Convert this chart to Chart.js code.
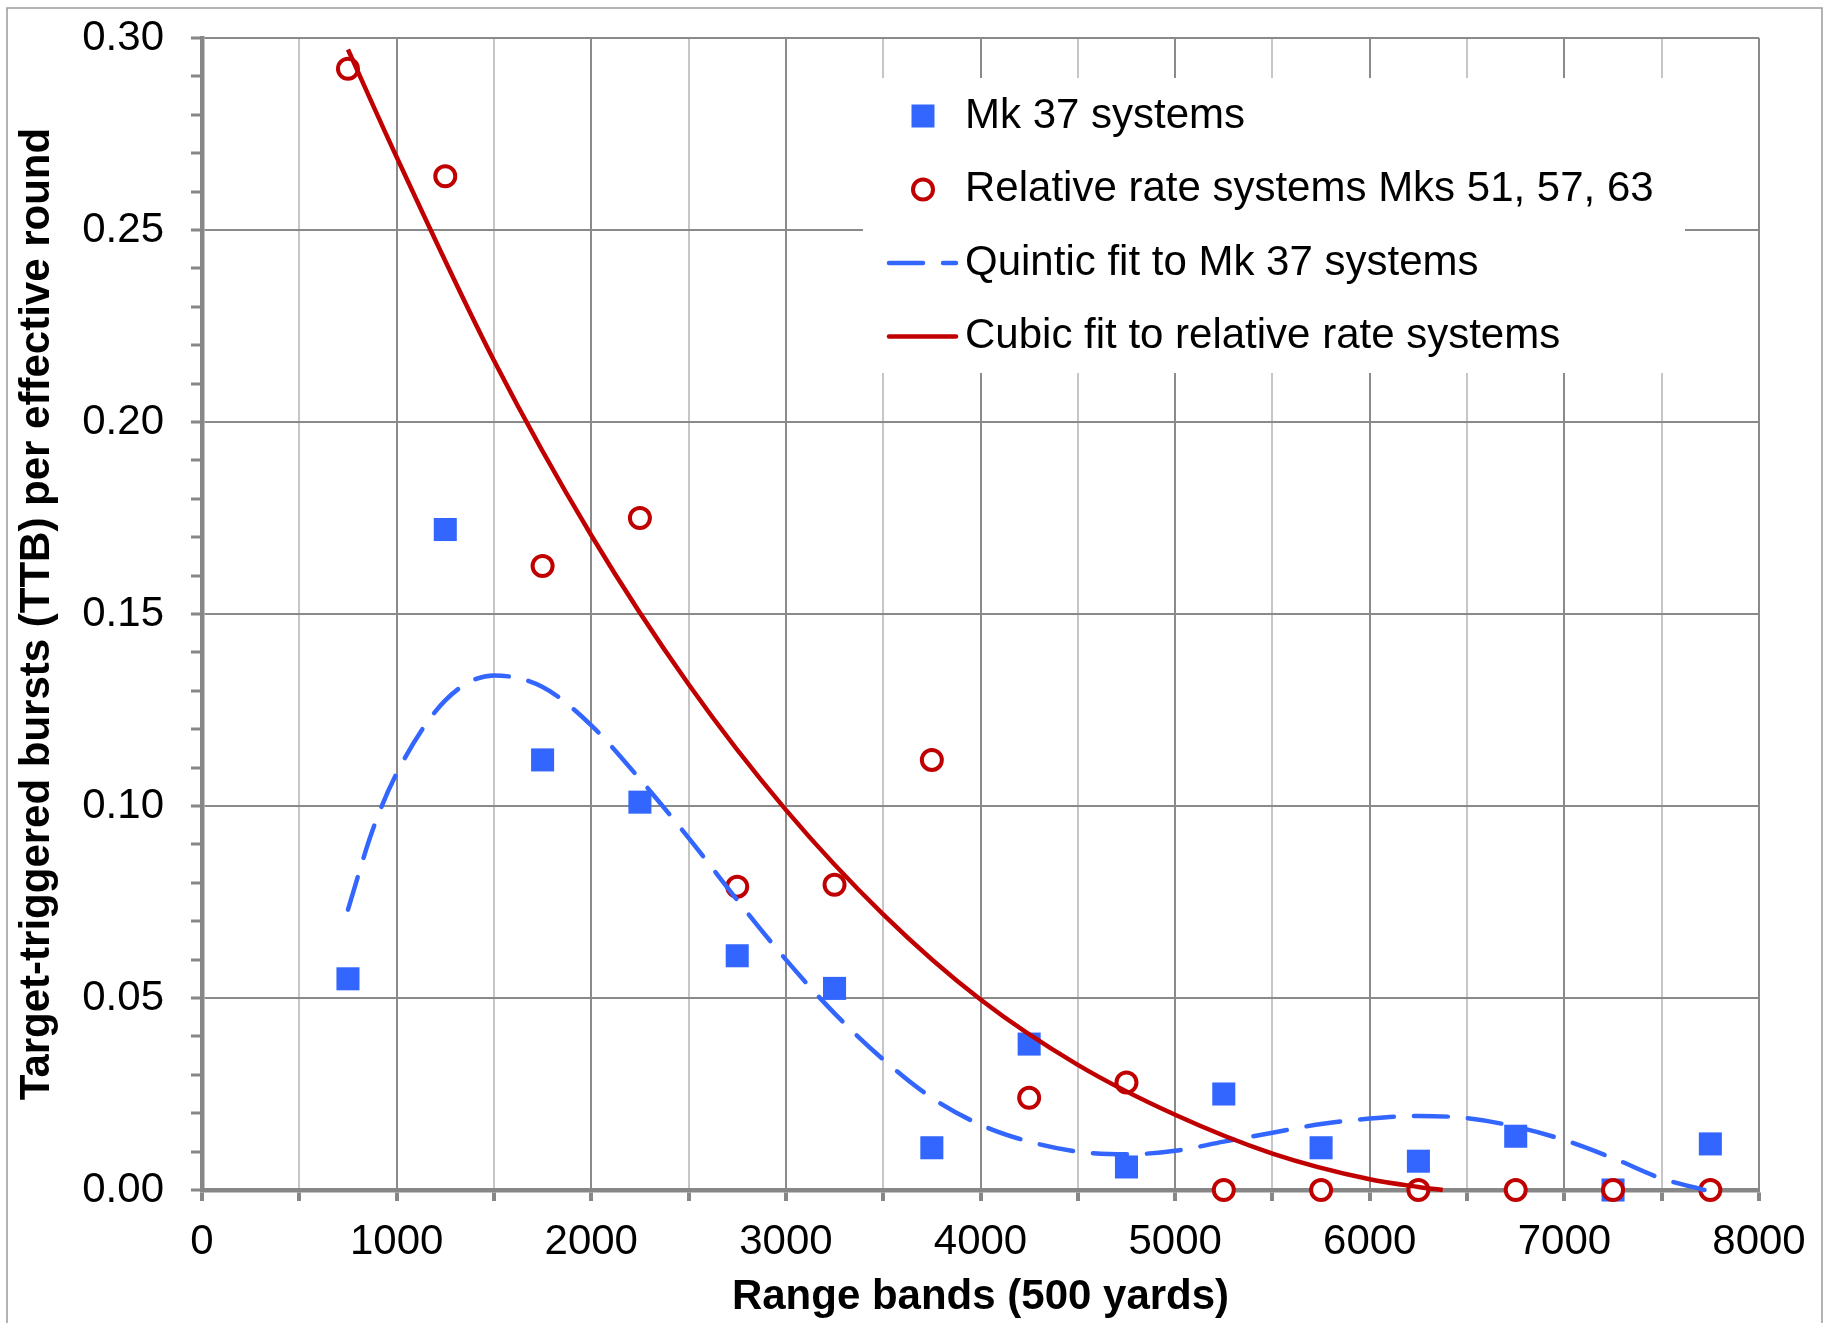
<!DOCTYPE html>
<html>
<head>
<meta charset="utf-8">
<style>
  body { margin: 0; background: #fff; }
  canvas { display: block; }
</style>
<script src="https://cdn.jsdelivr.net/npm/chart.js@4.4.1/dist/chart.umd.min.js"></script>
</head>
<body>
<canvas id="myChart" width="1834" height="1323"></canvas>
<script>
// range bands (centre of each 500 yd band)
const rangeBands = [750, 1250, 1750, 2250, 2750, 3250, 3750, 4250, 4750, 5250, 5750, 6250, 6750, 7250, 7750];
const mk37 = [0.055, 0.172, 0.112, 0.101, 0.061, 0.0525, 0.011, 0.038, 0.006, 0.025, 0.011, 0.0075, 0.014, 0, 0.012];
const relRate = [0.292, 0.264, 0.1625, 0.175, 0.079, 0.0795, 0.112, 0.024, 0.028, 0, 0, 0, 0, 0, 0];

// trend lines
const quinticX = [750, 875, 1000, 1250, 1500, 1750, 2000, 2250, 2500, 2750, 3000, 3250, 3500, 3750, 4000, 4250, 4500, 4750, 5000, 5250, 5500, 5750, 6000, 6250, 6500, 6750, 7000, 7250, 7500, 7720];
const quinticY = [0.073, 0.0935, 0.1085, 0.1275, 0.134, 0.131, 0.121, 0.107, 0.0917, 0.0755, 0.060, 0.046, 0.034, 0.024, 0.017, 0.0126, 0.010, 0.0093, 0.0102, 0.0126, 0.0149, 0.0172, 0.0186, 0.0193, 0.0187, 0.0165, 0.013, 0.0083, 0.003, 0];
const cubicX = [750, 1000, 1500, 2000, 2500, 3000, 3500, 4000, 4500, 5000, 5500, 6000, 6250, 6375];
const cubicY = [0.297, 0.269, 0.216, 0.1705, 0.1317, 0.099, 0.0718, 0.0496, 0.0326, 0.0196, 0.0095, 0.0028, 0.0008, 0];

const xTicks = [0, 1000, 2000, 3000, 4000, 5000, 6000, 7000, 8000];
const yTicks = ['0.00', '0.05', '0.10', '0.15', '0.20', '0.25', '0.30'];

const blue = '#3366ff';
const red = '#c00000';
const axisGray = '#878787';
const FONT = '"Liberation Sans", Arial, sans-serif';

function pts(xs, ys) {
    return xs.map((x, i) => ({x: x, y: ys[i]}));
}

Chart.defaults.font.family = FONT;
Chart.defaults.color = '#000';

// frame round the whole picture
const frame = {
    id: 'frame',
    beforeDraw(chart) {
        const c = chart.ctx;
        c.save();
        c.strokeStyle = '#9a9a9a';
        c.lineWidth = 1.5;
        c.strokeRect(7, 8, 1815, 1400);
        c.restore();
    }
};

// legend sits inside the plot, white box over the grid
const insideLegend = {
    id: 'insideLegend',
    beforeDatasetsDraw(chart) {
        const c = chart.ctx;
        c.save();
        c.fillStyle = '#fff';
        c.fillRect(863, 78, 822, 295);
        chart.data.datasets.forEach((ds, i) => {
            const y = 116 + i * 73.5;
            if (ds.showLine) {
                c.strokeStyle = ds.borderColor;
                c.lineWidth = 4.5;
                c.lineCap = 'round';
                c.setLineDash(ds.borderDash || []);
                c.beginPath();
                c.moveTo(889, y);
                c.lineTo(956, y);
                c.stroke();
                c.setLineDash([]);
            } else if (ds.pointStyle === 'rect') {
                c.fillStyle = ds.backgroundColor;
                c.fillRect(923 - 11.5, y - 11.5, 23, 23);
            } else {
                c.fillStyle = '#fff';
                c.strokeStyle = ds.borderColor;
                c.lineWidth = 4;
                c.beginPath();
                c.arc(923, y, 10, 0, Math.PI * 2);
                c.fill();
                c.stroke();
            }
            c.fillStyle = '#000';
            c.font = '42px ' + FONT;
            c.textBaseline = 'middle';
            c.textAlign = 'left';
            c.fillText(ds.label, 965, y);
        });
        c.restore();
    }
};

const data = {
    datasets: [{
        label: 'Mk 37 systems',
        data: pts(rangeBands, mk37),
        pointStyle: 'rect',
        pointRadius: 16.3,
        pointBorderWidth: 0,
        backgroundColor: blue,
        borderColor: blue,
        clip: false,
        order: 3
    }, {
        label: 'Relative rate systems Mks 51, 57, 63',
        data: pts(rangeBands, relRate),
        pointStyle: 'circle',
        pointRadius: 10,
        pointBorderWidth: 4,
        backgroundColor: '#fff',
        borderColor: red,
        clip: false,
        order: 2
    }, {
        label: 'Quintic fit to Mk 37 systems',
        data: pts(quinticX, quinticY),
        showLine: true,
        pointRadius: 0,
        borderColor: blue,
        borderWidth: 4.5,
        borderDash: [34, 20],
        borderCapStyle: 'round',
        cubicInterpolationMode: 'monotone',
        clip: false,
        order: 1
    }, {
        label: 'Cubic fit to relative rate systems',
        data: pts(cubicX, cubicY),
        showLine: true,
        pointRadius: 0,
        borderColor: red,
        borderWidth: 4.5,
        cubicInterpolationMode: 'monotone',
        clip: false,
        order: 0
    }]
};

const config = {
    type: 'scatter',
    data,
    options: {
        responsive: false,
        animation: false,
        devicePixelRatio: 1,
        layout: {padding: {top: 38, right: 75, bottom: 0, left: 0}},
        plugins: {
            legend: {display: false},
            tooltip: {enabled: false}
        },
        scales: {
            x: {
                type: 'linear',
                min: 0,
                max: 8000,
                afterFit: s => { s.height = 133; },
                ticks: {
                    stepSize: 500,
                    autoSkip: false,
                    maxRotation: 0,
                    padding: 16,
                    font: {size: 42},
                    color: '#000',
                    callback: v => xTicks.includes(v) ? String(v) : ''
                },
                grid: {
                    color: ctx => (ctx.tick && ctx.tick.value % 1000 === 0) ? '#8a8a8a' : '#c6c6c6',
                    lineWidth: 2,
                    tickColor: axisGray,
                    tickWidth: 4,
                    tickLength: 11
                },
                border: {color: axisGray, width: 4.5},
                title: {
                    display: true,
                    text: 'Range bands (500 yards)',
                    font: {size: 42, weight: 'bold'},
                    color: '#000',
                    padding: {top: 0, bottom: 0}
                }
            },
            y: {
                type: 'linear',
                min: 0,
                max: 0.30,
                afterFit: s => {
                    s.width = 202;
                    s.paddingTop = 0;
                    s.paddingBottom = 0;
                },
                ticks: {
                    stepSize: 0.01,
                    autoSkip: false,
                    padding: 27,
                    font: {size: 42},
                    color: '#000',
                    callback: v => {
                        const lab = v.toFixed(2);
                        return yTicks.includes(lab) ? lab : '';
                    }
                },
                grid: {
                    color: ctx => (ctx.tick && Math.round(ctx.tick.value * 100) % 5 === 0) ? '#8a8a8a' : 'rgba(0,0,0,0)',
                    lineWidth: 2,
                    tickColor: axisGray,
                    tickWidth: 3,
                    tickLength: 11
                },
                border: {color: axisGray, width: 4.5},
                title: {
                    display: true,
                    text: 'Target-triggered bursts (TTB) per effective round',
                    font: {size: 42, weight: 'bold'},
                    color: '#000',
                    padding: {top: 12, bottom: 0}
                }
            }
        }
    },
    plugins: [frame, insideLegend]
};

var myChart = new Chart(
    document.getElementById('myChart'),
    config
);
</script>
</body>
</html>
